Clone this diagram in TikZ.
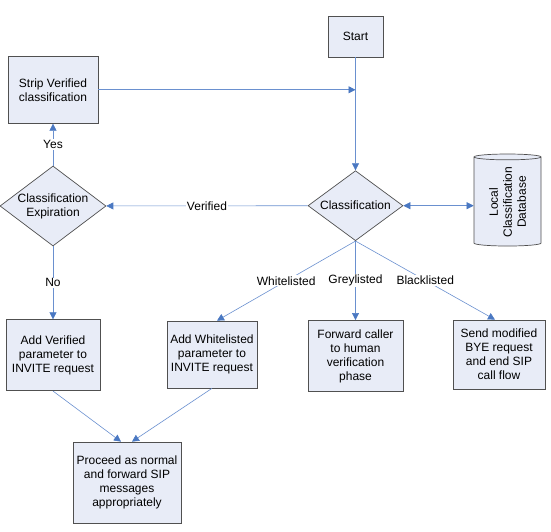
\documentclass[tikz,border=0pt]{standalone}
\usepackage{fontspec}
\setmainfont{Liberation Sans}
\usetikzlibrary{shapes.geometric, arrows.meta, positioning}
\definecolor{flowline}{HTML}{6A90CF}
\definecolor{flowtip}{HTML}{4A78C2}
\definecolor{boxfill}{HTML}{E8ECF7}
\definecolor{boxline}{HTML}{505050}
\begin{document}
\begin{tikzpicture}[
    x=1pt, y=-1pt,
    box/.style={rectangle, draw=boxline, line width=0.7pt, fill=boxfill, align=center, font=\fontsize{12}{14}\selectfont, inner sep=2pt},
    decision/.style={diamond, draw=boxline, line width=0.7pt, fill=boxfill, align=center, font=\fontsize{12}{14}\selectfont, inner sep=0pt, aspect=1.35},
    store/.style={cylinder, draw=boxline, line width=0.7pt, fill=boxfill, align=center, font=\fontsize{12}{14}\selectfont, aspect=0.15, rotate=90, inner sep=1pt},
    arrow/.style={-{Triangle[length=7pt, width=7pt, color=flowtip]}, flowline, semithick},
    biarrow/.style={{Triangle[length=7pt, width=7pt, color=flowtip]}-{Triangle[length=7pt, width=7pt, color=flowtip]}, flowline, semithick},
    label/.style={font=\fontsize{12}{14}\selectfont, fill=white, inner sep=1pt, text=black}
]
\useasboundingbox (0,0) rectangle (551,532);

% Main column
\node[box, minimum width=55pt, minimum height=41pt] (start) at (355.5,36.5) {Start};
\node[decision, minimum width=95pt, minimum height=70pt, below=113pt of start] (cls) {Classification};
\node[store, minimum width=67pt, minimum height=92pt] (db) at (507.5,202) {Local\\Classification\\Database};

% Verified branch
\node[decision, minimum width=106pt, minimum height=80pt] (expire) at (53,206) {Classification\\Expiration};
\node[box, minimum width=90pt, minimum height=67pt, above=42pt of expire] (strip) {Strip Verified\\classification};
\node[box, minimum width=94pt, minimum height=71pt, below=73pt of expire] (addver) {Add Verified\\parameter to\\INVITE request};

% List branches
\node[box, minimum width=90pt, minimum height=67pt] (addwl) at (212,354.5) {Add Whitelisted\\parameter to\\INVITE request};
\node[box, minimum width=95pt, minimum height=71pt, below=79pt of cls] (fwd) {Forward caller\\to human\\verification\\phase};
\node[box, minimum width=92pt, minimum height=69pt] (send) at (499,354.5) {Send modified\\BYE request\\and end SIP\\call flow};

\node[box, minimum width=108pt, minimum height=81pt] (proceed) at (127,482.5) {Proceed as normal\\and forward SIP\\messages\\appropriately};

\coordinate (join) at (strip.east -| start);

\draw[arrow] (start) -- (cls);
\draw[arrow] (strip.east) -- (join);
\draw[biarrow] (cls.east) -- (cls.east -| db.north);
\draw[arrow] (cls) -- node[label] {Verified} (expire);
\draw[arrow] (expire) -- node[label] {Yes} (strip);
\draw[arrow] (expire) -- node[label] {No} (addver);

\draw[arrow] (cls.south) -- node[label] {Whitelisted} ([xshift=5pt]addwl.north);
\draw[arrow] (cls.south) -- node[label] {Greylisted} (fwd);
\draw[arrow] (cls.south) -- node[label] {Blacklisted} ([xshift=-4pt]send.north);

\draw[arrow] (addver.south) -- ([xshift=-6pt]proceed.north);
\draw[arrow] (addwl.south) -- ([xshift=5pt]proceed.north);

\end{tikzpicture}
\end{document}
